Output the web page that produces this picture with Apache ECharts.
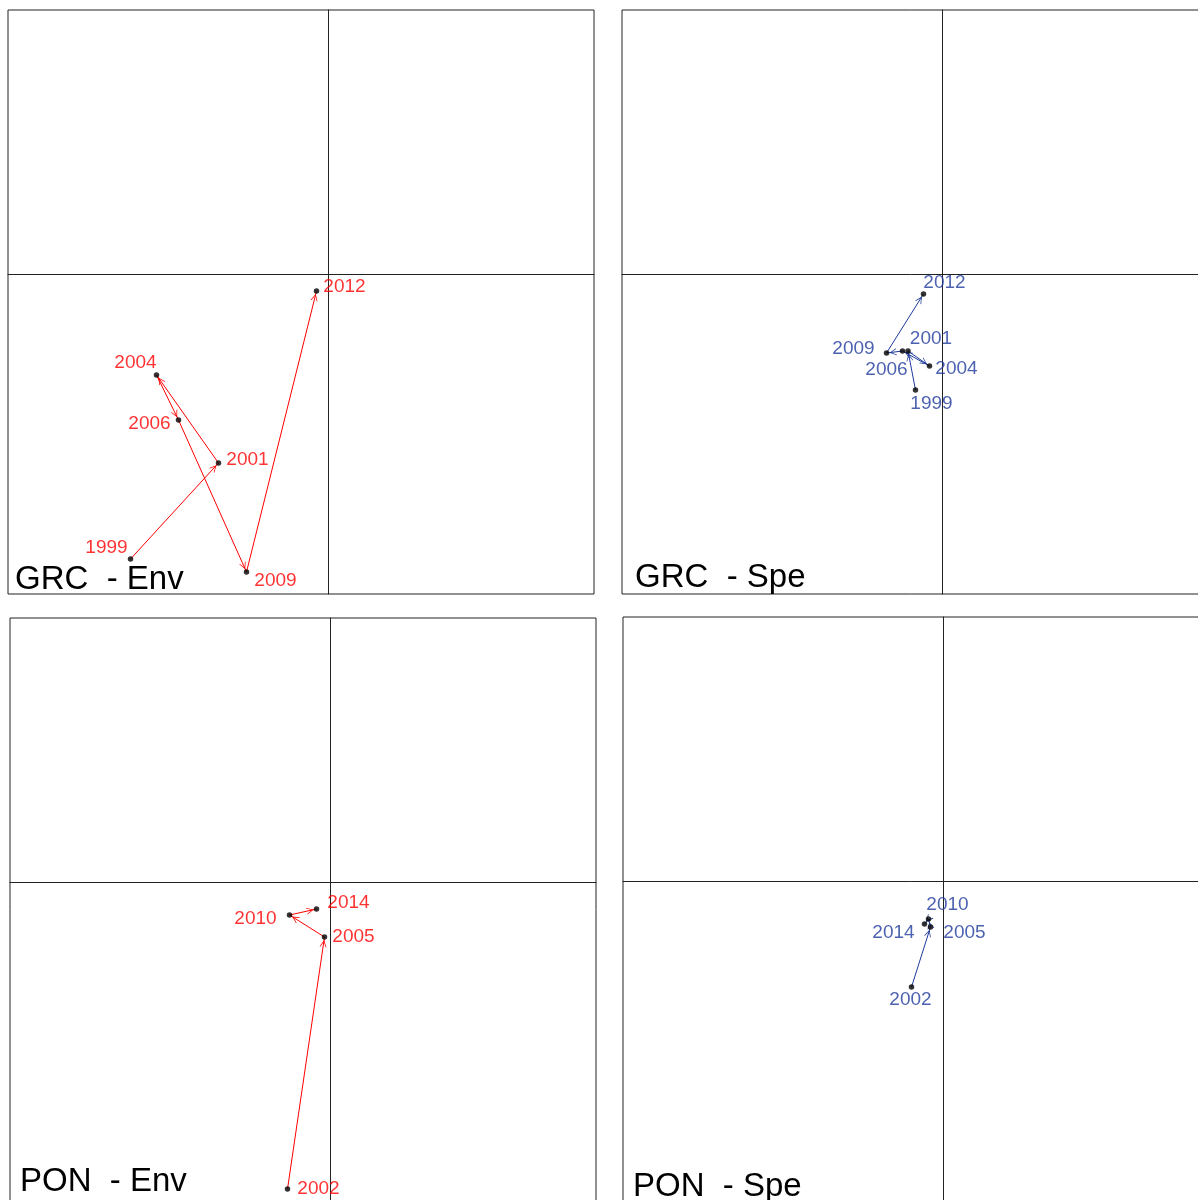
<!DOCTYPE html>
<html>
<head>
<meta charset="utf-8">
<script src="https://cdn.jsdelivr.net/npm/echarts@6/dist/echarts.min.js"></script>
<style>
html, body { margin: 0; padding: 0; background: #fff; }
#ec { width: 1198px; height: 1200px; }
</style>
</head>
<body>
<div id="ec" class="echarts"></div>
<script>
// trajectory data (ordination scores)
var grcYears = [1999, 2001, 2004, 2006, 2009, 2012];
var grcEnvX = [-1.98, -1.10, -1.72, -1.50, -0.82, -0.12];
var grcEnvY = [-2.85, -1.89, -1.01, -1.46, -2.98, -0.17];
var grcSpeX = [-0.27, -0.345, -0.13, -0.40, -0.56, -0.19];
var grcSpeY = [-1.16, -0.77, -0.92, -0.77, -0.79, -0.20];

var ponYears = [2002, 2005, 2010, 2014];
var ponEnvX = [-0.43, -0.06, -0.41, -0.14];
var ponEnvY = [-3.07, -0.55, -0.33, -0.27];
var ponSpeX = [-0.32, -0.13, -0.15, -0.19];
var ponSpeY = [-1.06, -0.46, -0.38, -0.43];

var titles = ["GRC  - Env", "GRC  - Spe", "PON  - Env", "PON  - Spe"];

// label placement (pixel offsets from the point)
var grcEnvLab = [[-24, -11], [29, -3], [-21, -12], [-29, 4], [29, 9], [28, -4]];
var grcSpeLab = [[16, 14], [23, -12], [27, 3], [-16, 19], [-33, -4], [21, -11]];
var ponEnvLab = [[31, 0], [29, 0], [-34, 4], [32, -6]];
var ponSpeLab = [[-1, 13], [34, 6], [19, -14], [-31, 9]];

var RED = "#ff0000";
var BLUE = "#1f3a9c";
var FONT = "Liberation Sans, Arial, sans-serif";
// open V head; the two lone move-to points widen the box so the tip stops short of the dot
var arrowHead = "path://M-9.3,-18.6 M19.3,10 M0,10 L5,0 L10,10 L8.8,10 L5,2.4 L1.2,10 Z";

var boxes = [
  { left: 8, top: 10 },
  { left: 622, top: 10 },
  { left: 10, top: 618 },
  { left: 623, top: 617 },
];
var titleTops = [563, 561, 1165, 1170];
var titleLefts = [15, 635, 20, 633];

function axis(i, min, max) {
  return {
    type: "value",
    gridIndex: i,
    min: min,
    max: max,
    axisLine: { show: true, onZero: true, lineStyle: { color: "#222", width: 1 } },
    axisTick: { show: false },
    axisLabel: { show: false },
    splitLine: { show: false },
  };
}

function panelSeries(i, years, xs, ys, color, labs) {
  var segs = [];
  for (var k = 1; k < xs.length; k++) {
    segs.push({ coords: [[xs[k - 1], ys[k - 1]], [xs[k], ys[k]]] });
  }
  var pts = xs.map(function (x, k) {
    return {
      name: String(years[k]),
      value: [x, ys[k]],
      label: { offset: labs[k] },
    };
  });
  return [
    {
      type: "lines",
      coordinateSystem: "cartesian2d",
      xAxisIndex: i,
      yAxisIndex: i,
      symbol: ["none", arrowHead],
      symbolSize: 20,
      lineStyle: { color: color, width: 1, opacity: 1, curveness: 0 },
      data: segs,
      silent: true,
      z: 2,
    },
    {
      type: "scatter",
      xAxisIndex: i,
      yAxisIndex: i,
      symbol: "circle",
      symbolSize: 5.5,
      itemStyle: { color: "#000" },
      label: {
        show: true,
        position: "inside",
        formatter: "{b}",
        color: color,
        fontSize: 19,
        fontFamily: FONT,
      },
      data: pts,
      silent: true,
      z: 3,
    },
  ];
}

var myChart = echarts.init(document.getElementById("ec"), null, { renderer: "canvas" });

myChart.setOption({
  backgroundColor: "#fff",
  animation: false,
  title: titles.map(function (t, i) {
    return {
      text: t,
      left: titleLefts[i],
      top: titleTops[i],
      padding: 0,
      textStyle: { fontSize: 33, fontWeight: "normal", color: "#000", fontFamily: FONT },
    };
  }),
  grid: boxes.map(function (b) {
    return {
      left: b.left,
      top: b.top,
      width: 586,
      height: 584,
      outerBoundsMode: "none",
      show: true,
      borderColor: "#222",
      borderWidth: 1,
      backgroundColor: "transparent",
    };
  }),
  xAxis: [0, 1, 2, 3].map(function (i) { return axis(i, -3.205, 2.655); }),
  yAxis: [0, 1, 2, 3].map(function (i) { return axis(i, -3.2, 2.64); }),
  series: []
    .concat(panelSeries(0, grcYears, grcEnvX, grcEnvY, RED, grcEnvLab))
    .concat(panelSeries(1, grcYears, grcSpeX, grcSpeY, BLUE, grcSpeLab))
    .concat(panelSeries(2, ponYears, ponEnvX, ponEnvY, RED, ponEnvLab))
    .concat(panelSeries(3, ponYears, ponSpeX, ponSpeY, BLUE, ponSpeLab)),
});
</script>
</body>
</html>
